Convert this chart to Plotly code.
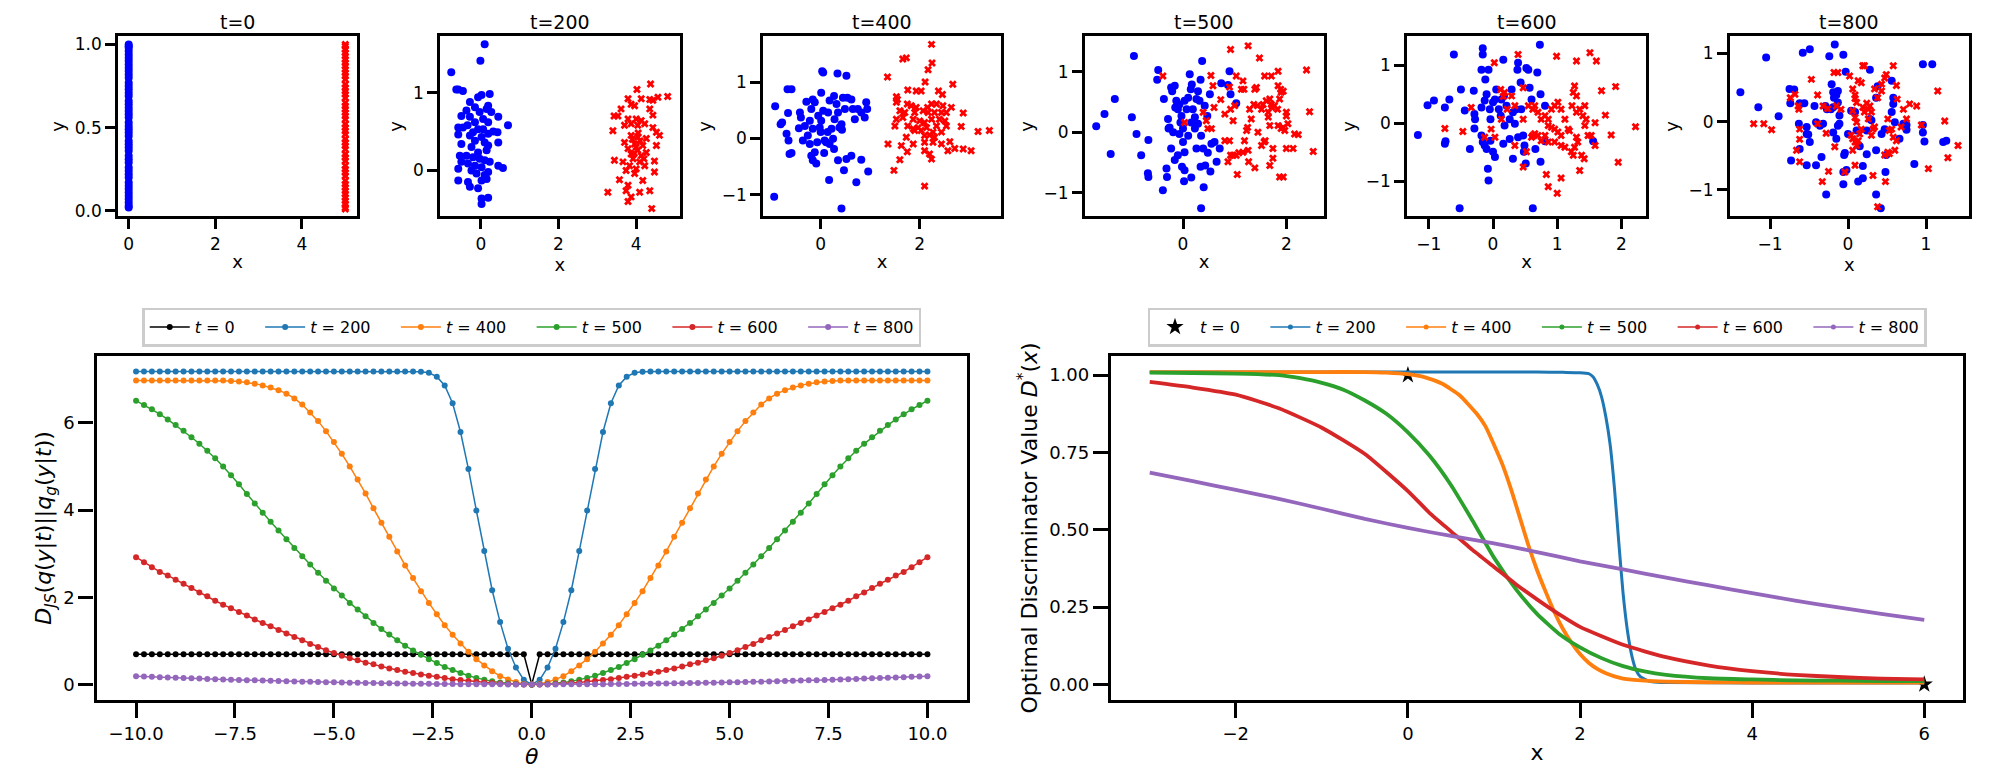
import plotly.graph_objects as go

FONT = "DejaVu Sans"
W, H = 1997, 769

# ---------------- top row scatter data ----------------
T0_BLUE_X = 0.0
T0_RED_X = 5.0
t0_blue_y = [0.02, 0.03, 0.05, 0.07, 0.09, 0.11, 0.13, 0.15, 0.17, 0.20, 0.22, 0.24, 0.26, 0.29,
             0.31, 0.33, 0.36, 0.38, 0.40, 0.42, 0.45, 0.47, 0.49, 0.51, 0.53, 0.56, 0.58, 0.60,
             0.62, 0.64, 0.66, 0.69, 0.71, 0.73, 0.75, 0.77, 0.80, 0.82, 0.84, 0.86, 0.88, 0.90,
             0.92, 0.94, 0.96, 0.98, 0.99, 1.00]
t0_red_y = [0.01, 0.02, 0.04, 0.06, 0.08, 0.10, 0.12, 0.14, 0.16, 0.18, 0.21, 0.23, 0.25, 0.27,
            0.30, 0.32, 0.34, 0.37, 0.39, 0.41, 0.43, 0.46, 0.48, 0.50, 0.52, 0.55, 0.57, 0.59,
            0.61, 0.63, 0.65, 0.68, 0.70, 0.72, 0.74, 0.76, 0.79, 0.81, 0.83, 0.85, 0.87, 0.89,
            0.91, 0.93, 0.95, 0.97, 0.99, 1.00]

t200_blue = [(-0.76, 1.26), (0.10, 1.62), (-0.01, 1.41), (-0.63, 1.04), (-0.58, 1.04), (-0.46, 1.02),
             (0.23, 0.98), (0.02, 0.97), (-0.07, 0.94), (-0.28, 0.88), (0.19, 0.83), (-0.15, 0.81),
             (0.15, 0.79), (-0.37, 0.77), (-0.03, 0.75), (0.27, 0.75), (-0.50, 0.70), (-0.28, 0.69),
             (0.45, 0.69), (0.06, 0.66), (-0.15, 0.62), (-0.34, 0.58), (0.19, 0.62), (0.70, 0.58),
             (-0.58, 0.55), (-0.46, 0.55), (-0.07, 0.53), (-0.20, 0.49), (0.06, 0.53), (0.32, 0.50),
             (0.43, 0.49), (0.19, 0.47), (-0.58, 0.46), (-0.28, 0.45), (0.02, 0.43), (-0.15, 0.38),
             (0.10, 0.36), (-0.50, 0.34), (0.45, 0.36), (-0.24, 0.30), (0.19, 0.32), (-0.07, 0.23),
             (0.15, 0.26), (-0.54, 0.19), (-0.37, 0.19), (-0.20, 0.17), (-0.03, 0.15), (0.10, 0.13),
             (-0.50, 0.11), (0.23, 0.11), (-0.33, 0.09), (-0.15, 0.06), (0.45, 0.06), (0.57, 0.03),
             (0.02, 0.04), (-0.58, 0.02), (-0.24, 0.00), (0.19, -0.02), (-0.11, -0.04), (-0.33, -0.15),
             (0.10, -0.06), (0.02, -0.13), (0.15, -0.11), (-0.28, -0.21), (-0.07, -0.23), (0.02, -0.36),
             (0.19, -0.35), (0.02, -0.43), (-0.58, -0.13)]
t200_red = [(4.37, 1.11), (4.02, 1.04), (4.81, 0.95), (4.56, 0.94), (3.79, 0.92), (4.13, 0.92),
            (4.35, 0.91), (4.43, 0.90), (3.87, 0.85), (3.96, 0.83), (3.61, 0.79), (4.35, 0.79),
            (3.43, 0.70), (3.53, 0.70), (4.43, 0.71), (3.79, 0.66), (4.00, 0.66), (4.13, 0.64),
            (3.87, 0.60), (4.04, 0.58), (4.22, 0.60), (4.43, 0.55), (3.70, 0.58), (3.40, 0.51),
            (4.52, 0.49), (4.60, 0.45), (3.87, 0.45), (4.04, 0.43), (4.26, 0.41), (3.70, 0.36),
            (3.96, 0.34), (4.17, 0.32), (4.52, 0.32), (3.79, 0.28), (4.04, 0.26), (4.26, 0.23),
            (3.87, 0.21), (3.44, 0.13), (3.66, 0.11), (4.09, 0.11), (4.47, 0.12), (3.83, 0.06),
            (4.00, 0.02), (3.74, 0.00), (4.47, -0.02), (3.96, -0.04), (3.57, -0.12), (4.17, -0.13),
            (3.79, -0.19), (3.74, -0.26), (4.09, -0.28), (4.35, -0.26), (3.27, -0.28), (3.87, -0.34),
            (3.79, -0.40), (4.40, -0.49), (4.13, 0.19), (3.92, 0.15), (4.22, 0.06), (4.00, 0.30),
            (4.10, 0.38), (3.95, 0.22), (4.20, 0.15), (3.90, 0.40), (4.05, 0.48)]

t400_blue = [(-0.94, -1.04), (-0.92, 0.57), (-0.67, 0.87), (-0.59, 0.87), (-0.81, 0.25), (-0.78, 0.28),
             (-0.66, 0.45), (-0.69, 0.08), (-0.65, -0.04), (-0.59, -0.26), (-0.63, -0.28), (-0.29, 0.65),
             (-0.42, 0.46), (-0.40, 0.37), (-0.44, 0.18), (-0.32, 0.22), (-0.22, 0.31), (-0.19, 0.52),
             (-0.16, 0.69), (-0.12, 0.64), (-0.26, 0.05), (-0.36, -0.04), (-0.22, -0.10), (-0.16, 0.17),
             (-0.05, 0.40), (0.01, 0.31), (0.05, 0.49), (0.00, 0.11), (0.01, 0.81), (0.03, 1.19),
             (0.05, 1.17), (0.07, -0.26), (0.15, 0.46), (0.18, 0.67), (0.22, 0.17), (0.25, -0.01),
             (0.11, -0.07), (0.14, 0.11), (0.27, 0.75), (0.32, 0.61), (0.34, 1.15), (0.35, 0.46),
             (0.38, 0.19), (0.42, 0.25), (0.45, 0.72), (0.49, 0.52), (0.52, 1.11), (0.54, 0.72),
             (0.62, 0.69), (0.65, 0.52), (0.69, 0.34), (0.75, 0.52), (0.82, 0.46), (0.89, 0.37),
             (0.92, 0.64), (0.94, 0.52), (0.43, 0.15), (0.18, -0.10), (0.27, -0.19), (-0.19, -0.31),
             (-0.16, -0.39), (-0.09, -0.45), (0.47, -0.57), (0.35, -0.39), (0.52, -0.37), (0.62, -0.31),
             (0.82, -0.38), (0.96, -0.59), (0.72, -0.78), (0.17, -0.74), (0.42, -1.25), (-0.07, -0.07),
             (-0.12, -0.25), (-0.02, 0.19), (0.08, -0.04), (0.28, 0.34)]
t400_red = [(2.24, 1.67), (2.25, 1.34), (2.17, 1.22), (1.66, 1.41), (1.73, 1.43), (1.35, 1.09),
            (2.11, 1.00), (2.67, 0.96), (1.76, 0.86), (1.93, 0.84), (2.03, 0.84), (2.38, 0.84),
            (2.46, 0.78), (1.53, 0.74), (1.55, 0.69), (1.53, 0.64), (1.75, 0.61), (1.83, 0.58),
            (1.93, 0.55), (2.24, 0.61), (2.34, 0.61), (2.47, 0.58), (2.64, 0.55), (1.60, 0.49),
            (1.70, 0.46), (1.90, 0.46), (2.07, 0.49), (2.17, 0.46), (2.30, 0.46), (2.44, 0.46),
            (2.54, 0.46), (2.88, 0.45), (1.53, 0.34), (1.66, 0.37), (1.87, 0.34), (2.00, 0.31),
            (2.10, 0.28), (2.24, 0.34), (2.40, 0.34), (2.51, 0.31), (1.50, 0.22), (1.76, 0.22),
            (1.97, 0.19), (2.14, 0.19), (2.34, 0.22), (2.54, 0.22), (2.84, 0.21), (1.90, 0.14),
            (2.03, 0.14), (2.27, 0.11), (2.44, 0.11), (3.18, 0.12), (3.41, 0.14), (1.73, 0.02),
            (2.10, 0.05), (2.20, 0.06), (2.30, 0.02), (1.87, -0.10), (2.10, -0.07), (2.27, -0.07),
            (2.44, -0.10), (1.36, -0.10), (1.63, -0.13), (2.61, -0.06), (2.71, -0.18), (2.88, -0.19),
            (3.04, -0.22), (2.57, -0.22), (2.10, -0.22), (1.75, -0.24), (2.20, -0.28), (1.60, -0.38),
            (2.24, -0.37), (1.48, -0.57), (2.10, -0.85), (1.87, 0.17), (2.16, 0.55)]

t500_blue = [(-1.68, 0.10), (-1.52, 0.30), (-1.32, 0.55), (-1.40, -0.36), (-0.99, 0.25), (-0.95, 1.26),
             (-0.90, -0.03), (-0.81, -0.38), (-0.67, -0.13), (-0.68, -0.68), (-0.67, -0.74), (-0.48, 1.03),
             (-0.50, 0.87), (-0.39, -0.96), (-0.37, 0.55), (-0.31, -0.74), (-0.29, 0.22), (-0.26, 0.08),
             (-0.23, 0.74), (-0.21, 0.68), (-0.16, 0.77), (-0.15, 0.41), (-0.13, 0.52), (-0.10, 0.38),
             (-0.07, 0.46), (-0.05, 0.16), (-0.03, 0.27), (0.00, 0.06), (0.03, 0.52), (0.07, 0.38),
             (0.10, 0.57), (0.13, 0.96), (0.15, 0.71), (0.17, 0.79), (0.19, 0.38), (0.23, 0.25),
             (0.26, 0.55), (0.29, 0.68), (0.32, 0.52), (0.34, 0.87), (0.37, 1.18), (0.42, 0.44),
             (0.47, 0.27), (0.52, 0.63), (-0.28, 0.06), (-0.19, 0.00), (-0.07, -0.03), (0.00, -0.16),
             (0.03, -0.33), (0.10, -0.06), (0.16, 0.16), (0.23, 0.06), (0.29, 0.14), (0.35, -0.06),
             (-0.23, -0.27), (-0.10, -0.38), (-0.02, -0.57), (0.03, -0.63), (0.02, -0.81), (-0.16, -0.46),
             (-0.32, -0.60), (0.16, -0.75), (0.26, -0.27), (0.39, -0.27), (0.48, -0.34), (0.55, -0.19),
             (0.61, -0.16), (0.65, -0.49), (0.71, -0.27), (0.34, -0.57), (0.43, -0.55), (0.53, -0.65),
             (0.40, -0.91), (0.35, -1.26), (0.90, 1.01), (0.87, 0.78), (0.74, 0.81), (1.03, 0.48),
             (0.92, 0.63)]
t500_red = [(-0.39, 0.93), (0.03, 0.16), (0.39, 0.33), (0.45, 0.19), (0.48, 0.06), (0.55, 0.06),
            (0.54, 0.94), (0.58, 0.77), (0.60, 0.41), (0.73, 0.54), (0.81, 0.30), (0.90, 0.75),
            (0.92, 0.38), (0.97, 0.19), (1.00, 0.44), (0.90, -0.14), (0.81, -0.14), (0.87, -0.49),
            (0.92, -0.38), (0.97, -0.38), (1.03, -0.38), (1.08, -0.34), (1.05, -0.70), (0.92, 1.37),
            (1.03, 0.93), (1.16, 0.85), (1.18, 0.71), (1.13, 0.71), (1.26, 1.43), (1.25, 0.08),
            (1.19, -0.14), (1.16, -0.33), (1.26, -0.30), (1.27, -0.49), (1.39, -0.59), (1.32, 0.22),
            (1.29, 0.38), (1.37, 0.46), (1.39, 0.71), (1.42, 0.74), (1.44, 0.44), (1.48, 1.23),
            (1.45, 0.00), (1.52, 0.38), (1.55, 0.46), (1.58, 0.93), (1.61, 0.52), (1.65, 0.33),
            (1.65, 0.25), (1.68, 0.55), (1.71, 0.46), (1.71, 0.93), (1.72, 0.41), (1.77, 0.44),
            (1.84, 1.01), (1.83, 0.38), (1.84, 0.77), (1.87, 0.55), (1.89, 0.71), (1.90, 0.66),
            (1.94, 0.68), (1.68, 0.11), (1.52, -0.22), (1.57, -0.16), (1.59, -0.14), (1.74, -0.27),
            (1.74, -0.43), (1.68, -0.55), (2.00, 0.33), (2.00, 0.27), (2.03, 0.14), (1.94, 0.08),
            (1.84, 0.11), (1.90, 0.06), (1.97, 0.03), (1.87, -0.74), (1.94, -0.74), (2.00, -0.27),
            (2.13, -0.27), (2.16, -0.03), (2.23, -0.04), (2.39, 1.03), (2.45, 0.34), (2.52, -0.32),
            (1.23, 0.03)]

t600_blue = [(-1.17, -0.20), (-1.02, 0.31), (-0.92, 0.39), (-0.75, 0.27), (-0.68, 0.41), (-0.74, -0.31),
             (-0.75, -0.35), (-0.61, 1.18), (-0.50, 0.58), (-0.44, 0.22), (-0.36, -0.44), (-0.30, 0.56),
             (-0.29, -0.09), (-0.29, 0.16), (-0.28, 0.07), (-0.18, 0.92), (-0.16, 1.18), (-0.18, 0.27),
             (-0.16, 1.29), (-0.12, 0.75), (-0.13, 0.39), (-0.10, 0.50), (-0.07, 0.92), (-0.05, 0.24),
             (-0.04, 0.07), (0.00, 0.36), (0.03, 0.41), (-0.18, -0.21), (-0.16, -0.32), (-0.13, -0.38),
             (-0.10, -0.44), (-0.04, -0.30), (0.00, -0.49), (0.03, -0.58), (-0.08, -0.78), (-0.07, -0.98),
             (0.05, 0.58), (0.09, 0.24), (0.12, 0.13), (0.13, 0.41), (0.16, 1.09), (0.17, 0.47),
             (0.18, -0.04), (0.16, -0.35), (0.21, 0.30), (0.26, 0.07), (0.29, 0.58), (0.31, 0.19),
             (0.34, -0.01), (0.38, 0.92), (0.36, 0.24), (0.39, 1.04), (0.43, 0.70), (0.44, 0.24),
             (0.47, -0.21), (0.48, -0.49), (0.49, -0.38), (0.51, -0.69), (0.52, 0.95), (0.55, 0.92),
             (0.57, 0.61), (0.60, 0.41), (0.66, -0.44), (0.69, 0.87), (0.73, 1.35), (0.74, 0.50),
             (0.74, -0.66), (0.62, -1.46), (-0.52, -1.46), (0.26, -0.27), (0.31, -0.61), (0.39, -0.24),
             (0.81, 0.30), (0.81, -0.31), (1.56, -0.31)]
t600_red = [(-0.75, -0.09), (-0.47, -0.14), (-0.34, 0.27), (-0.13, -0.24), (-0.03, -0.10), (0.03, -0.24),
            (0.02, 1.04), (0.12, 0.58), (0.13, 0.07), (0.16, 0.46), (0.18, 0.53), (0.22, 0.24),
            (0.39, 1.18), (0.99, 1.15), (0.47, 0.61), (0.29, 0.47), (0.34, 0.30), (0.47, 0.07),
            (0.55, 0.30), (0.62, 0.24), (0.65, 0.30), (0.70, 0.19), (0.75, 0.07), (0.81, 0.13),
            (0.86, 0.07), (0.91, 0.24), (0.96, 0.30), (1.01, 0.36), (1.06, 0.24), (1.12, 0.07),
            (0.86, -0.04), (0.91, -0.07), (0.96, -0.10), (1.01, -0.15), (1.06, -0.21), (0.81, -0.21),
            (0.70, -0.21), (0.65, -0.18), (0.60, -0.24), (0.75, -0.30), (0.86, -0.32), (0.96, -0.32),
            (1.06, -0.38), (1.12, -0.41), (0.34, -0.38), (0.52, -0.49), (0.47, -0.75), (0.83, -0.88),
            (0.86, -1.09), (1.00, -1.20), (1.06, -0.94), (0.62, -0.21), (1.25, 0.53), (1.27, 0.64),
            (1.30, 0.47), (1.19, -0.13), (1.23, 0.30), (1.35, 0.24), (1.32, -0.32), (1.27, -0.41),
            (1.22, -0.49), (1.42, -0.61), (1.35, -0.81), (1.40, 0.13), (1.43, -0.04), (1.45, 0.07),
            (1.30, -0.24), (1.51, 1.21), (1.61, 1.07), (1.30, 1.07), (1.48, -0.21), (1.53, -0.21),
            (1.59, 0.01), (1.59, -0.38), (1.69, 0.56), (1.75, 0.14), (1.84, -0.20), (1.91, 0.63),
            (1.95, -0.67), (2.22, -0.06), (1.25, -0.55), (1.38, -0.55), (1.30, 0.19), (1.43, 0.30),
            (1.17, -0.10)]

t800_blue = [(-1.38, 0.43), (-1.15, 0.21), (-1.05, 0.94), (-0.89, 0.08), (-0.75, 0.48), (-0.69, 0.47),
             (-0.74, 0.27), (-0.63, -0.03), (-0.62, 0.27), (-0.58, 1.01), (-0.53, -0.08), (-0.53, -0.18),
             (-0.51, -0.19), (-0.49, -0.30), (-0.56, 0.27), (-0.49, 1.06), (-0.43, 0.23), (-0.41, -0.01),
             (-0.36, -0.06), (-0.32, -0.03), (-0.29, 0.23), (-0.27, 0.18), (-0.24, 0.96), (-0.22, 0.18),
             (-0.21, 0.55), (-0.19, 0.43), (-0.18, 0.35), (-0.15, 0.39), (-0.13, 0.28), (-0.13, 0.45),
             (-0.11, 0.09), (-0.06, 0.98), (-0.03, 0.73), (-0.17, 1.13), (-0.15, -0.25), (-0.13, -0.06),
             (-0.11, -0.03), (-0.19, -0.16), (-0.19, 0.21), (-0.34, -0.52), (-0.41, -0.64), (-0.53, -0.64),
             (-0.73, -0.57), (-0.62, -0.40), (-0.28, -1.07), (-0.06, -0.92), (-0.06, -0.74), (-0.02, -0.71),
             (-0.04, -0.46), (0.00, -0.18), (0.04, 0.16), (0.09, 0.14), (0.11, -0.13), (0.15, -0.36),
             (0.19, -0.65), (0.13, -0.88), (0.19, -0.83), (0.24, -0.48), (0.24, -0.13), (0.28, 0.76),
             (0.30, 0.02), (0.36, -0.42), (0.36, 0.35), (0.38, 0.52), (0.43, -0.18), (0.47, -0.11),
             (0.49, -0.49), (0.48, -0.74), (0.56, 0.14), (0.58, 0.35), (0.56, 0.60), (0.58, 0.26),
             (0.66, -0.25), (0.71, -0.03), (0.75, -0.12), (0.75, -0.05), (0.85, -0.62), (0.96, -0.05),
             (0.96, -0.16), (0.98, -0.29), (0.96, 0.84), (1.08, 0.84), (1.22, -0.30), (1.26, -0.28),
             (0.36, -1.07), (0.42, -1.27), (-0.05, -0.49), (0.28, 0.04), (0.60, -0.01)]
t800_red = [(-1.21, -0.03), (-1.08, -0.03), (-0.98, -0.12), (-0.74, 0.35), (-0.68, 0.40), (-0.64, 0.23),
            (-0.63, 0.18), (-0.62, -0.11), (-0.62, -0.26), (-0.66, -0.42), (-0.62, -0.59), (-0.47, 0.62),
            (-0.39, 0.39), (-0.39, -0.03), (-0.32, 0.23), (-0.28, -0.17), (-0.26, 0.19), (-0.25, -0.73),
            (-0.33, -0.88), (-0.18, 0.72), (-0.13, 0.72), (-0.17, -0.37), (-0.15, 0.23), (-0.09, 0.18),
            (-0.04, -0.74), (0.02, 0.67), (0.06, 0.48), (0.09, 0.39), (0.09, 0.34), (0.11, 0.28),
            (0.06, 0.16), (0.09, 0.06), (0.11, -0.01), (0.04, -0.20), (0.06, -0.25), (0.09, -0.30),
            (0.11, -0.35), (0.09, -0.64), (0.13, 0.60), (0.17, 0.57), (0.19, 0.82), (0.21, 0.82),
            (0.19, 0.21), (0.21, 0.14), (0.24, 0.27), (0.26, 0.18), (0.28, 0.23), (0.30, 0.14),
            (0.26, 0.04), (0.32, -0.11), (0.34, -0.08), (0.30, -0.20), (0.17, -0.11), (0.15, -0.18),
            (0.13, -0.28), (0.32, -0.79), (0.34, 0.48), (0.38, 0.35), (0.43, 0.45), (0.43, 0.55),
            (0.47, 0.64), (0.49, 0.69), (0.51, 0.04), (0.53, -0.13), (0.56, -0.11), (0.58, 0.82),
            (0.58, -0.23), (0.60, -0.42), (0.62, -0.28), (0.47, -0.49), (0.51, -0.45), (0.53, -0.47),
            (0.62, 0.53), (0.63, 0.33), (0.68, -0.08), (0.71, 0.18), (0.75, 0.04), (0.79, 0.26),
            (0.88, 0.23), (0.94, -0.05), (1.15, 0.45), (1.24, 0.01), (1.28, -0.53), (1.41, -0.35),
            (1.03, -0.69), (0.48, -0.88), (0.38, -1.25), (0.06, -0.42)]

# ---------------- bottom-left: D_JS vs theta (symmetric; values for theta >= 0) ----------------
theta_pos = [0.0, 0.2, 0.4, 0.6, 0.8, 1.0, 1.2, 1.4, 1.6, 1.8, 2.0, 2.2, 2.4, 2.6, 2.8, 3.0, 3.2,
             3.4, 3.6, 3.8, 4.0, 4.2, 4.4, 4.6, 4.8, 5.0, 5.2, 5.4, 5.6, 5.8, 6.0, 6.2, 6.4, 6.6,
             6.8, 7.0, 7.2, 7.4, 7.6, 7.8, 8.0, 8.2, 8.4, 8.6, 8.8, 9.0, 9.2, 9.4, 9.6, 9.8, 10.0]
djs_t0 = [0.0, 0.693, 0.693, 0.693, 0.693, 0.693, 0.693, 0.693, 0.693, 0.693, 0.693, 0.693, 0.693,
          0.693, 0.693, 0.693, 0.693, 0.693, 0.693, 0.693, 0.693, 0.693, 0.693, 0.693, 0.693, 0.693,
          0.693, 0.693, 0.693, 0.693, 0.693, 0.693, 0.693, 0.693, 0.693, 0.693, 0.693, 0.693, 0.693,
          0.693, 0.693, 0.693, 0.693, 0.693, 0.693, 0.693, 0.693, 0.693, 0.693, 0.693, 0.693]
djs_t200 = [0.0, 0.105, 0.39, 0.82, 1.43, 2.16, 3.06, 3.99, 4.94, 5.79, 6.45, 6.86, 7.06, 7.15, 7.17,
            7.18, 7.18, 7.18, 7.18, 7.18, 7.18, 7.18, 7.18, 7.18, 7.18, 7.18, 7.18, 7.18, 7.18, 7.18,
            7.18, 7.18, 7.18, 7.18, 7.18, 7.18, 7.18, 7.18, 7.18, 7.18, 7.18, 7.18, 7.18, 7.18, 7.18,
            7.18, 7.18, 7.18, 7.18, 7.18, 7.18]
djs_t400 = [0.0, 0.015, 0.053, 0.115, 0.19, 0.305, 0.435, 0.58, 0.75, 0.94, 1.14, 1.36, 1.61, 1.87,
            2.14, 2.44, 2.73, 3.05, 3.39, 3.71, 4.04, 4.38, 4.70, 5.00, 5.29, 5.56, 5.81, 6.04, 6.24,
            6.42, 6.56, 6.67, 6.75, 6.81, 6.86, 6.90, 6.93, 6.95, 6.96, 6.97, 6.97, 6.97, 6.97, 6.97,
            6.97, 6.97, 6.97, 6.97, 6.97, 6.97, 6.97]
djs_t500 = [0.0, 0.003, 0.012, 0.025, 0.045, 0.07, 0.105, 0.15, 0.20, 0.26, 0.33, 0.40, 0.49, 0.58,
            0.68, 0.78, 0.89, 1.015, 1.145, 1.27, 1.41, 1.565, 1.72, 1.87, 2.04, 2.20, 2.38, 2.56,
            2.75, 2.94, 3.13, 3.33, 3.53, 3.73, 3.94, 4.15, 4.37, 4.59, 4.80, 5.00, 5.19, 5.36, 5.52,
            5.67, 5.82, 5.95, 6.08, 6.20, 6.31, 6.41, 6.51]
djs_t600 = [0.0, 0.001, 0.005, 0.012, 0.02, 0.032, 0.045, 0.062, 0.08, 0.10, 0.12, 0.145, 0.175, 0.20,
            0.23, 0.26, 0.29, 0.33, 0.365, 0.41, 0.46, 0.50, 0.555, 0.60, 0.655, 0.72, 0.785, 0.86,
            0.93, 1.015, 1.09, 1.17, 1.25, 1.335, 1.41, 1.49, 1.58, 1.66, 1.75, 1.83, 1.92, 2.02, 2.11,
            2.21, 2.31, 2.40, 2.50, 2.58, 2.69, 2.80, 2.92]
djs_t800 = [0.0, 0.0001, 0.0003, 0.0007, 0.0012, 0.002, 0.003, 0.004, 0.005, 0.006, 0.008, 0.009,
            0.011, 0.013, 0.015, 0.017, 0.019, 0.022, 0.025, 0.027, 0.030, 0.033, 0.037, 0.040, 0.044,
            0.048, 0.051, 0.055, 0.060, 0.064, 0.068, 0.073, 0.078, 0.083, 0.088, 0.093, 0.098, 0.104,
            0.110, 0.115, 0.121, 0.127, 0.134, 0.140, 0.147, 0.153, 0.160, 0.167, 0.175, 0.182, 0.19]

# ---------------- bottom-right: optimal discriminator ----------------
star_x = [0, 6]
star_y = [1.0, 0.0]
d200_x = [-3, -2, -1, 0, 1, 1.5, 1.8, 2.0, 2.1, 2.15, 2.2, 2.25, 2.3, 2.35, 2.4, 2.45, 2.5, 2.55,
          2.6, 2.65, 2.7, 2.8, 2.9, 3.0, 4.0, 5.0, 6.0]
d200_y = [1.01, 1.01, 1.01, 1.01, 1.01, 1.01, 1.009, 1.008, 1.005, 0.995, 0.97, 0.93, 0.865, 0.775,
          0.635, 0.46, 0.295, 0.175, 0.095, 0.047, 0.025, 0.011, 0.007, 0.006, 0.005, 0.005, 0.005]
d400_x = [-3, -2, -1, -0.5, -0.25, 0, 0.2, 0.4, 0.6, 0.8, 0.9, 1.0, 1.1, 1.2, 1.3, 1.4, 1.5, 1.6,
          1.7, 1.8, 1.9, 2.0, 2.1, 2.2, 2.3, 2.4, 2.5, 2.75, 3.0, 3.5, 4.0, 5.0, 6.0]
d400_y = [1.01, 1.01, 1.01, 1.01, 1.008, 1.003, 0.993, 0.972, 0.935, 0.875, 0.835, 0.775, 0.71, 0.63,
          0.54, 0.45, 0.37, 0.30, 0.235, 0.18, 0.135, 0.098, 0.07, 0.05, 0.036, 0.026, 0.019, 0.012,
          0.009, 0.007, 0.006, 0.006, 0.006]
d500_x = [-3, -2.5, -2, -1.5, -1.25, -1.0, -0.75, -0.5, -0.25, 0, 0.25, 0.5, 0.75, 1.0, 1.25, 1.5,
          1.75, 2.0, 2.25, 2.5, 2.75, 3.0, 3.5, 4.0, 4.5, 5.0, 5.5, 6.0]
d500_y = [1.008, 1.007, 1.005, 1.0, 0.99, 0.975, 0.953, 0.918, 0.875, 0.815, 0.74, 0.645, 0.53, 0.41,
          0.31, 0.228, 0.165, 0.12, 0.085, 0.059, 0.042, 0.031, 0.02, 0.016, 0.013, 0.012, 0.011, 0.011]
d600_x = [-3, -2.5, -2, -1.5, -1.0, -0.5, 0, 0.25, 0.5, 0.75, 1.0, 1.25, 1.5, 1.75, 2.0, 2.5, 3.0,
          3.5, 4.0, 4.5, 5.0, 5.5, 6.0]
d600_y = [0.978, 0.96, 0.937, 0.893, 0.83, 0.745, 0.625, 0.555, 0.495, 0.435, 0.38, 0.325, 0.275,
          0.228, 0.186, 0.128, 0.088, 0.061, 0.043, 0.031, 0.024, 0.019, 0.016]
d800_x = [-3, -2.5, -2, -1.5, -1, -0.5, 0, 0.5, 1, 1.5, 2, 2.5, 3, 3.5, 4, 4.5, 5, 5.5, 6]
d800_y = [0.685, 0.657, 0.629, 0.600, 0.568, 0.535, 0.506, 0.48, 0.456, 0.428, 0.398, 0.372, 0.345,
          0.32, 0.295, 0.271, 0.249, 0.228, 0.209]

# ---------------- styling / layout ----------------
C = {"t0": "#000000", "t200": "#1f77b4", "t400": "#ff7f0e", "t500": "#2ca02c",
     "t600": "#d62728", "t800": "#9467bd"}
NB = "\u00a0" * 4


def px_x(p):
    return p / W


def px_y(p):
    return 1 - p / H


fig = go.Figure()

top = [
    ("t=0", None, None, [-0.247, 5.27], [-0.034, 1.048], [0, 2, 4], [0, 0.5, 1.0], ".1f"),
    ("t=200", t200_blue, t200_red, [-1.05, 5.12], [-0.59, 1.72], [0, 2, 4], [0, 1], None),
    ("t=400", t400_blue, t400_red, [-1.166, 3.65], [-1.388, 1.81], [0, 2], [-1, 0, 1], None),
    ("t=500", t500_blue, t500_red, [-1.903, 2.723], [-1.393, 1.585], [0, 2], [-1, 0, 1], None),
    ("t=600", t600_blue, t600_red, [-1.34, 2.383], [-1.598, 1.49], [-1, 0, 1, 2], [-1, 0, 1], None),
    ("t=800", t800_blue, t800_red, [-1.517, 1.551], [-1.39, 1.249], [-1, 0, 1], [-1, 0, 1], None),
]
top_px = [(110, 349), (432, 671.7), (755, 993.3), (1076.7, 1315.7), (1399, 1638), (1721.7, 1961)]
top_y = [px_y(208), px_y(26.7)]

annotations = []
for i, (title, blue, red, xr, yr, xt, yt, yfmt) in enumerate(top):
    n = i + 1
    xa = "x" if n == 1 else f"x{n}"
    ya = "y" if n == 1 else f"y{n}"
    if blue is None:
        bx = [T0_BLUE_X for _ in t0_blue_y]
        by = t0_blue_y
        rx = [T0_RED_X for _ in t0_red_y]
        ry = t0_red_y
    else:
        bx = [p[0] for p in blue]
        by = [p[1] for p in blue]
        rx = [p[0] for p in red]
        ry = [p[1] for p in red]
    fig.add_trace(go.Scatter(x=bx, y=by, mode="markers", xaxis=xa, yaxis=ya, showlegend=False,
                             marker=dict(color="#0000ff", size=8, symbol="circle", line=dict(width=0))))
    fig.add_trace(go.Scatter(x=rx, y=ry, mode="markers", xaxis=xa, yaxis=ya, showlegend=False,
                             marker=dict(color="#ff0000", size=7, symbol="x", line=dict(width=0))))
    d0, d1 = top_px[i]
    axcommon = dict(showline=True, linewidth=2.5, linecolor="black", mirror=True, ticks="outside",
                    ticklen=10, tickwidth=2.5, tickcolor="black", showgrid=False, zeroline=False,
                    tickfont=dict(size=17, family=FONT, color="black"))
    fig.layout[f"xaxis{'' if n == 1 else n}"] = dict(
        domain=[px_x(d0), px_x(d1)], anchor=ya, range=xr, tickvals=xt,
        title=dict(text="x", font=dict(size=18, family=FONT, color="black"), standoff=3), **axcommon)
    yextra = dict(tickformat=yfmt) if yfmt else {}
    fig.layout[f"yaxis{'' if n == 1 else n}"] = dict(
        domain=top_y, anchor=xa, range=yr, tickvals=yt,
        title=dict(text="y", font=dict(size=18, family=FONT, color="black"), standoff=6),
        **axcommon, **yextra)
    annotations.append(dict(text=title, x=(px_x(d0) + px_x(d1)) / 2, y=px_y(25), xref="paper",
                            yref="paper", xanchor="center", yanchor="bottom", showarrow=False,
                            font=dict(size=19, family=FONT, color="black")))

# bottom-left
theta_full = [-t for t in theta_pos[:0:-1]] + theta_pos
series_l = [("t0", djs_t0, "0"), ("t200", djs_t200, "200"), ("t400", djs_t400, "400"),
            ("t500", djs_t500, "500"), ("t600", djs_t600, "600"), ("t800", djs_t800, "800")]
for k, (key, half, lab) in enumerate(series_l):
    full = half[:0:-1] + half
    name = f"<i>t</i> = {lab}" + (NB if k < len(series_l) - 1 else "")
    fig.add_trace(go.Scatter(x=theta_full, y=full, mode="lines+markers", xaxis="x7", yaxis="y7",
                             name=name, legend="legend",
                             line=dict(color=C[key], width=1.5),
                             marker=dict(color=C[key], size=6)))

# bottom-right
fig.add_trace(go.Scatter(x=star_x, y=star_y, mode="markers", xaxis="x8", yaxis="y8",
                         name="<i>t</i> = 0" + NB, legend="legend2",
                         marker=dict(symbol="star", size=13, color="black")))
series_r = [("t200", d200_x, d200_y, "200"), ("t400", d400_x, d400_y, "400"),
            ("t500", d500_x, d500_y, "500"), ("t600", d600_x, d600_y, "600"),
            ("t800", d800_x, d800_y, "800")]
for k, (key, xs, ys, lab) in enumerate(series_r):
    fig.add_trace(go.Scatter(x=xs, y=ys, mode="lines", xaxis="x8", yaxis="y8", showlegend=False,
                             line=dict(color=C[key], width=3.8 if key != "t200" else 3,
                                       shape="spline", smoothing=0.5)))
for k, (key, xs, ys, lab) in enumerate(series_r):
    name = f"<i>t</i> = {lab}" + (NB if k < len(series_r) - 1 else "")
    fig.add_trace(go.Scatter(x=[None], y=[None], mode="lines+markers", xaxis="x8", yaxis="y8",
                             name=name, legend="legend2",
                             line=dict(color=C[key], width=1.5), marker=dict(color=C[key], size=5)))

bot_y = [px_y(695.5), px_y(348.5)]
bcommon = dict(showline=True, linewidth=3.3, linecolor="black", mirror=True, ticks="outside",
               ticklen=15, tickwidth=3, tickcolor="black", showgrid=False, zeroline=False,
               tickfont=dict(size=18, family=FONT, color="black"))
fig.layout["xaxis7"] = dict(domain=[px_x(88.5), px_x(959)], anchor="y7", range=[-11, 11],
                            tickvals=[-10, -7.5, -5, -2.5, 0, 2.5, 5, 7.5, 10], tickformat=".1f",
                            title=dict(text="<i>θ</i>", font=dict(size=22, family=FONT, color="black"),
                                       standoff=2), **bcommon)
fig.layout["yaxis7"] = dict(domain=bot_y, anchor="x7", range=[-0.359, 7.539], tickvals=[0, 2, 4, 6],
                            title=dict(text="<i>D</i><sub><i>JS</i></sub>(<i>q</i>(<i>y</i>|<i>t</i>)||"
                                            "<i>q</i><sub><i>g</i></sub>(<i>y</i>|<i>t</i>))",
                                       font=dict(size=22, family=FONT, color="black"), standoff=6),
                            **bcommon)
fig.layout["xaxis8"] = dict(domain=[px_x(1103), px_x(1955)], anchor="y8", range=[-3.45, 6.45],
                            tickvals=[-2, 0, 2, 4, 6],
                            title=dict(text="x", font=dict(size=22, family=FONT, color="black"),
                                       standoff=2), **bcommon)
fig.layout["yaxis8"] = dict(domain=bot_y, anchor="x8", range=[-0.0506, 1.0626],
                            tickvals=[0, 0.25, 0.5, 0.75, 1.0], tickformat=".2f",
                            title=dict(text="Optimal Discriminator Value <i>D</i><sup>*</sup>(<i>x</i>)",
                                       font=dict(size=22, family=FONT, color="black"), standoff=6),
                            **bcommon)

legcommon = dict(orientation="h", xanchor="center", yanchor="middle", y=px_y(319.5),
                 font=dict(size=16, family=FONT, color="black"), bordercolor="#cccccc",
                 borderwidth=2.5, bgcolor="white", itemwidth=40, tracegroupgap=0)
fig.update_layout(
    width=W, height=H, autosize=False,
    margin=dict(l=0, r=0, t=0, b=0),
    paper_bgcolor="white", plot_bgcolor="white",
    font=dict(family=FONT, color="black"),
    annotations=annotations,
    legend=dict(x=(px_x(88.5) + px_x(959)) / 2, **legcommon),
    legend2=dict(x=(px_x(1103) + px_x(1955)) / 2, **legcommon),
)

fig.write_html("out.html")
